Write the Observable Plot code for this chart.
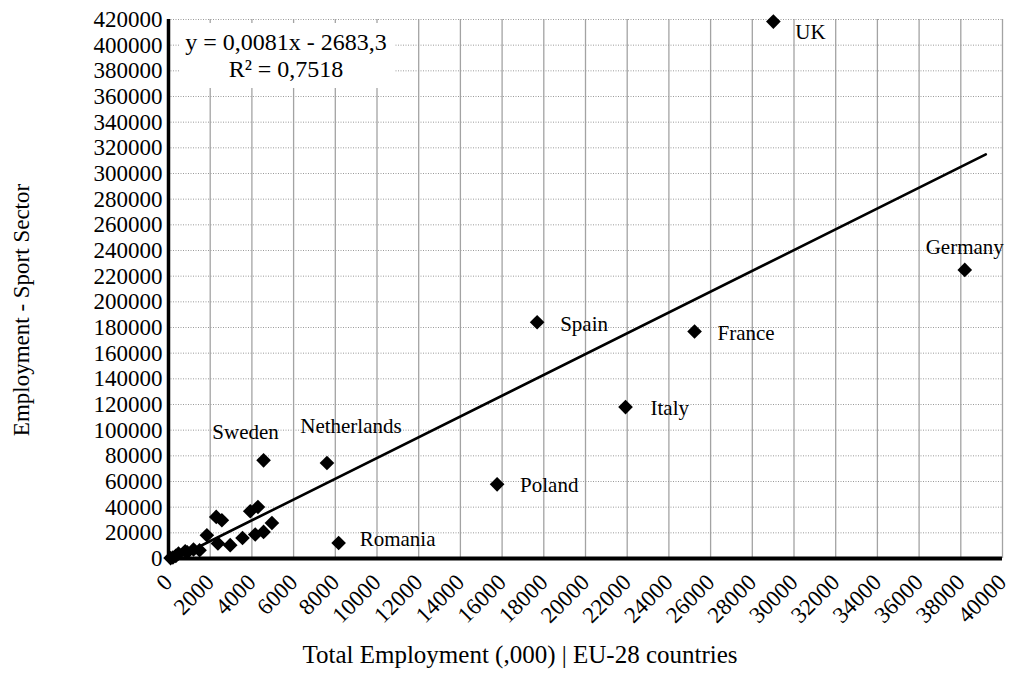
<!DOCTYPE html>
<html><head><meta charset="utf-8">
<script src="https://cdn.jsdelivr.net/npm/d3@7"></script>
<script src="https://cdn.jsdelivr.net/npm/@observablehq/plot@0.6"></script>
<style>
html,body{margin:0;padding:0;background:#fff;}
#chart{width:1010px;height:692px;}
#chart svg text{font-family:"Liberation Serif","Times New Roman",serif !important;}
</style></head><body><div id="chart"></div>
<script>
// ---- data; x in thousands of employees ----
const countries = ["UK","Germany","France","Spain","Italy","Poland","Romania","Netherlands","Sweden",
  "Belgium","Austria","Finland","Denmark","Czech Republic","Portugal","Hungary","Greece","Ireland",
  "Slovakia","Bulgaria","Croatia","Lithuania","Slovenia","Latvia","Estonia","Cyprus","Luxembourg","Malta"];
const totalEmployment = [29010,38190,25230,17680,21920,15760,8160,7600,4560,
  4290,3920,2290,2560,4960,4560,4160,3550,1840,
  2370,2960,1490,1200,800,900,480,350,210,100];
const sportEmployment = [418400,224900,176900,184100,118000,57800,12100,74400,76500,
  40150,36800,32400,29800,27700,20700,18700,16000,18100,
  11700,10400,6460,7000,5680,4800,3890,2000,800,300];
const labeledCountries = ["UK","Germany","France","Spain","Italy","Poland","Romania","Netherlands","Sweden"];
// trend equation as printed (x in persons, i.e. axis value x 1000)
const trendSlope = 0.0081, trendIntercept = -2683.3, rSquared = 0.7518;
const trendXRange = [330, 39200];
const xTicks = d3.range(0, 40001, 2000);
const yTicks = d3.range(0, 420001, 20000);
const xTitle = "Total Employment (,000) | EU-28 countries";
const yTitle = "Employment - Sport Sector";

// ---- derived tables ----
const points = countries.map((c, i) => ({country: c, x: totalEmployment[i], y: sportEmployment[i]}));
const trend = trendXRange.map(x => ({x: x, y: trendSlope * x * 1000 + trendIntercept}));

// label placement (style, not data)
const labelPos = {
  UK: {dx: 22, dy: 11, anchor: "start"},
  Germany: {dx: 0, dy: -23, anchor: "middle"},
  France: {dx: 23, dy: 2, anchor: "start"},
  Spain: {dx: 23, dy: 2, anchor: "start"},
  Italy: {dx: 25, dy: 1, anchor: "start"},
  Poland: {dx: 23, dy: 1, anchor: "start"},
  Romania: {dx: 21, dy: -4, anchor: "start"},
  Netherlands: {dx: 24, dy: -37, anchor: "middle"},
  Sweden: {dx: -18, dy: -28, anchor: "middle"}
};

const FONT = "Liberation Serif, Times New Roman, serif";
const FS_LABEL = 21, FS_TICK = 23;

const labelMarks = labeledCountries.map(c => {
  const p = labelPos[c];
  return Plot.text(points.filter(d => d.country === c), {
    x: "x", y: "y", text: "country", dx: p.dx, dy: p.dy, textAnchor: p.anchor,
    fill: "#000", fontSize: FS_LABEL
  });
});

const chart = Plot.plot({
  width: 1010, height: 692,
  marginLeft: 168, marginRight: 8, marginTop: 19, marginBottom: 134,
  style: {fontFamily: FONT, fontSize: FS_TICK + "px", color: "#000", background: "#fff", overflow: "visible"},
  x: {domain: [0, 40000]},
  y: {domain: [0, 420000]},
  marks: [
    Plot.gridX(xTicks, {stroke: "#a3a3a3", strokeOpacity: 1, strokeWidth: 1.3}),
    Plot.gridY(yTicks, {stroke: "#9a9a9a", strokeOpacity: 1, strokeWidth: 1, strokeDasharray: "1,1.5"}),
    Plot.axisX(xTicks, {tickRotate: -45, tickSize: 0, tickPadding: 20, tickFormat: d => String(d), label: null, fontSize: FS_TICK}),
    Plot.axisY(yTicks, {tickSize: 0, tickPadding: 6, tickFormat: d => String(d), label: null, fontSize: FS_TICK}),
    Plot.line(trend, {x: "x", y: "y", stroke: "#000", strokeWidth: 2.6}),
    Plot.ruleX([0], {stroke: "#000", strokeWidth: 3.5}),
    Plot.ruleY([0], {stroke: "#000", strokeWidth: 4}),
    Plot.dot(points, {x: "x", y: "y", symbol: "diamond2", r: 6.6, fill: "#000", stroke: "none"}),
    ...labelMarks
  ]
});
document.getElementById("chart").appendChild(chart);

// ---- annotations: equation box and axis titles ----
const svg = d3.select(chart);
const fmtNum = v => String(v).replace(".", ",");
const eq = svg.append("g").attr("font-size", 24).attr("fill", "#000");
eq.append("rect").attr("x", 180).attr("y", 23).attr("width", 215).attr("height", 65).attr("fill", "#fff");
eq.append("text").attr("x", 286).attr("y", 50).attr("text-anchor", "middle")
  .text(`y = ${fmtNum(trendSlope)}x - ${fmtNum(-trendIntercept)}`);
eq.append("text").attr("x", 286).attr("y", 77).attr("text-anchor", "middle")
  .text(`R² = ${fmtNum(rSquared)}`);

svg.append("text").attr("font-size", 25).attr("fill", "#000")
  .attr("text-anchor", "middle").attr("x", 520).attr("y", 663).text(xTitle);
svg.append("text").attr("font-size", 23).attr("fill", "#000")
  .attr("text-anchor", "middle").attr("transform", "translate(29,310) rotate(-90)").text(yTitle);
</script>
</body></html>
